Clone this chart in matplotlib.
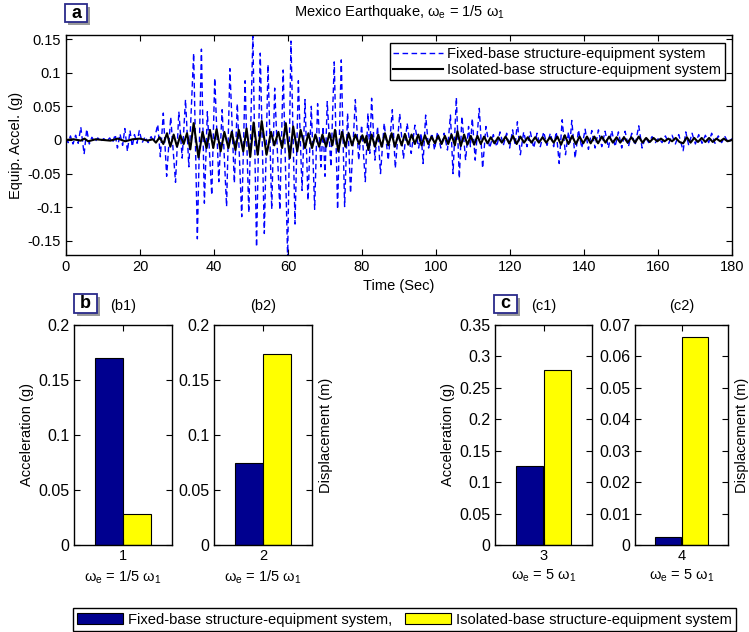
import matplotlib
matplotlib.use('Agg')
import matplotlib.pyplot as plt
from matplotlib.patches import Patch, Rectangle
from matplotlib.ticker import FuncFormatter

plt.rcParams['font.family'] = ['Liberation Sans', 'DejaVu Sans']
plt.rcParams['mathtext.fontset'] = 'custom'
plt.rcParams['mathtext.rm'] = 'Liberation Sans'
plt.rcParams['mathtext.it'] = 'Liberation Sans:italic'
plt.rcParams['axes.unicode_minus'] = False

# ---- data: time history extremes (time s, accel g) ----
fixed_peaks = [
    (0, 0.002), (0.6, -0.004), (1.2, 0.006), (1.9, -0.006), (2.6, 0.007), (3.3, -0.005),
    (4.0, 0.019), (4.9, -0.021), (5.6, 0.016), (6.3, -0.006), (7.0, 0.004), (7.8, -0.003),
    (8.6, 0.003), (9.4, -0.002), (10.2, 0.002), (11.0, -0.002), (11.8, 0.003), (12.6, -0.004),
    (13.3, 0.008), (13.9, -0.012), (14.6, 0.009), (15.3, -0.008), (15.9, 0.017), (16.6, -0.017),
    (17.3, 0.014), (17.9, -0.010), (18.5, 0.008), (19.2, -0.005), (19.8, 0.014), (20.6, -0.004),
    (21.4, 0.005), (22.2, -0.004), (23.0, 0.005), (23.7, -0.003),
    (24.8, 0.023), (25.5, -0.025), (26.3, 0.040), (27.2, -0.054), (28.3, 0.034), (29.6, -0.063),
    (30.5, 0.042), (31.4, -0.027), (32.3, 0.060), (33.2, -0.040),
    (34.5, 0.129), (35.5, -0.147), (36.6, 0.135), (37.4, -0.094), (38.2, 0.042), (39.4, -0.082),
    (40.2, 0.092), (41.3, -0.062), (42.2, 0.045), (43.4, -0.099), (44.3, 0.106), (45.5, -0.064),
    (46.3, 0.054), (47.5, -0.114), (48.4, 0.088), (49.4, -0.108), (50.5, 0.154), (51.5, -0.159),
    (52.5, 0.129), (53.6, -0.139), (54.6, 0.112), (55.6, -0.103), (56.4, 0.077), (57.8, -0.104),
    (58.7, 0.104), (59.9, -0.175), (60.8, 0.147), (61.9, -0.125), (62.8, 0.088), (63.8, -0.075),
    (64.6, 0.060), (65.4, -0.090), (66.3, 0.050), (67.2, -0.103), (68.0, 0.054), (68.9, -0.040),
    (69.5, 0.020), (70.0, -0.054), (70.6, 0.057), (71.6, -0.040), (72.5, 0.116), (73.4, -0.103),
    (74.4, 0.119), (75.3, -0.099), (76.1, 0.040), (76.9, -0.079), (78.2, 0.060), (79.1, -0.030),
    (79.9, 0.022), (80.9, -0.062), (81.6, 0.040), (82.1, -0.020), (82.6, 0.062), (83.5, -0.030),
    (84.2, 0.020), (85.0, -0.050), (86.0, 0.025), (87.1, -0.030), (88.2, 0.045), (89.0, -0.042),
    (90.2, 0.039), (91.2, -0.028), (92.2, 0.025), (93.3, -0.020), (94.3, 0.022), (95.3, -0.012),
    (96.0, 0.010), (96.5, -0.035), (97.2, 0.037), (98.0, -0.012), (98.9, 0.010), (99.6, -0.015),
    (100.4, 0.012), (101.3, -0.012), (102.2, 0.010), (103.1, -0.015), (103.9, 0.037), (104.6, -0.050),
    (105.5, 0.063), (106.3, -0.057), (107.0, 0.035), (108.0, -0.030), (108.8, 0.020), (109.3, -0.010),
    (109.8, 0.032), (110.6, -0.030), (111.7, 0.047), (112.6, -0.042), (113.5, 0.020), (114.5, -0.012),
    (115.5, 0.008), (116.4, -0.010), (117.3, 0.012), (118.2, -0.008), (119.1, 0.010), (119.9, -0.012),
    (120.7, 0.015), (121.4, -0.008), (122.0, 0.027), (122.8, -0.022), (123.7, 0.012), (124.6, -0.010),
    (125.5, 0.012), (126.4, -0.012), (127.3, 0.010), (128.2, -0.010), (129.1, 0.012), (130.0, -0.008),
    (130.9, 0.010), (131.8, -0.010), (132.5, 0.012), (133.3, -0.035), (134.1, 0.030), (135.0, -0.022),
    (135.8, 0.012), (136.2, -0.005), (136.7, 0.029), (137.6, -0.027), (138.5, 0.015), (139.4, -0.012),
    (140.3, 0.016), (141.2, -0.014), (142.1, 0.014), (143.0, -0.012), (143.9, 0.015), (144.8, -0.010),
    (145.7, 0.013), (146.6, -0.012), (147.5, 0.014), (148.4, -0.010), (149.3, 0.012), (150.2, -0.012),
    (151.1, 0.013), (152.0, -0.010), (152.9, 0.010), (153.8, -0.008), (154.8, 0.021), (155.7, -0.012),
    (156.6, 0.004), (157.5, -0.004), (158.4, 0.005), (159.3, -0.004), (160.2, 0.003), (161.1, -0.004),
    (162.0, 0.006), (162.9, -0.005), (163.8, 0.007), (164.7, -0.006), (165.6, 0.008), (166.8, -0.016),
    (167.5, 0.012), (168.3, -0.008), (169.2, 0.010), (170.1, -0.006), (171.0, 0.008), (171.9, -0.005),
    (172.8, 0.007), (173.7, -0.004), (174.5, 0.010), (175.4, -0.005), (176.3, 0.006), (177.2, -0.004),
    (178.1, 0.005), (179.0, -0.004), (180.0, 0.002),
]

isolated_peaks = [
    (0, 0.0), (2, 0.001), (4, -0.001), (5, 0.002), (6, -0.002), (8, 0.001), (12, -0.001),
    (14, 0.002), (16, -0.002), (18, 0.001), (20, 0.002), (22, -0.001), (23.5, 0.001),
    (24.3, -0.004), (25.3, 0.004), (26.3, -0.006), (27.3, 0.010), (28.2, -0.010), (29.1, 0.008),
    (30.0, -0.010), (30.9, 0.007), (31.8, -0.006), (32.7, 0.010), (33.6, -0.014), (34.5, 0.025),
    (35.8, -0.026), (36.9, 0.012), (38.0, -0.012), (38.9, 0.015), (39.8, -0.012), (40.7, 0.016),
    (41.8, -0.017), (42.8, 0.012), (43.9, -0.012), (44.8, 0.012), (45.8, -0.015), (46.7, 0.015),
    (47.9, -0.017), (48.8, 0.017), (49.8, -0.025), (50.7, 0.026), (51.8, -0.022), (52.9, 0.028),
    (54.2, -0.022), (55.4, 0.012), (56.3, -0.008), (57.4, 0.012), (58.4, -0.012), (59.4, 0.025),
    (60.5, -0.027), (61.4, 0.020), (62.5, -0.017), (63.4, 0.015), (64.6, -0.012), (65.5, 0.010),
    (66.5, -0.012), (67.4, 0.008), (68.4, -0.010), (69.3, 0.008), (70.3, -0.010), (71.2, 0.010),
    (72.0, -0.008), (72.7, 0.015), (73.6, -0.017), (74.6, 0.012), (75.5, -0.010), (76.4, 0.010),
    (77.3, -0.008), (78.2, 0.008), (79.2, -0.006), (80.1, 0.007), (80.8, -0.004), (81.2, 0.006),
    (81.7, -0.015), (82.6, 0.008), (83.5, -0.010), (84.4, 0.008), (85.3, -0.010), (86.2, 0.010),
    (87.1, -0.008), (88.0, 0.010), (88.9, -0.010), (89.8, 0.008), (90.7, -0.008), (91.6, 0.009),
    (92.5, -0.007), (93.4, 0.008), (94.3, -0.006), (95.2, 0.008), (96.1, -0.008), (97.0, 0.007),
    (97.9, -0.006), (98.8, 0.005), (99.7, -0.005), (100.6, 0.006), (101.5, -0.006), (102.4, 0.006),
    (103.3, -0.006), (104.2, 0.008), (105.1, -0.008), (105.8, 0.013), (106.7, -0.009), (107.6, 0.008),
    (108.5, -0.007), (109.4, 0.006), (110.3, -0.007), (111.2, 0.006), (112.1, -0.006), (113.0, 0.005),
    (113.9, -0.005), (114.8, 0.004), (115.8, -0.005), (116.8, 0.004), (117.8, -0.004), (118.8, 0.005),
    (119.8, -0.005), (120.8, 0.006), (121.8, -0.006), (122.8, 0.005), (123.8, -0.004), (124.8, 0.004),
    (125.8, -0.004), (126.8, 0.004), (127.8, -0.004), (128.8, 0.004), (129.8, -0.004), (130.8, 0.004),
    (131.8, -0.004), (132.8, 0.005), (133.8, -0.007), (134.8, 0.007), (135.8, -0.006), (136.8, 0.006),
    (137.8, -0.006), (138.8, 0.005), (139.8, -0.005), (140.8, 0.005), (141.8, -0.005), (142.8, 0.005),
    (143.8, -0.005), (144.8, 0.005), (145.8, -0.004), (146.8, 0.005), (147.8, -0.004), (148.8, 0.004),
    (149.8, -0.004), (150.8, 0.004), (151.8, -0.004), (152.8, 0.004), (153.8, -0.004), (154.8, 0.005),
    (155.8, -0.004), (156.8, 0.003), (157.8, -0.003), (158.8, 0.003), (159.8, -0.002), (160.8, 0.002),
    (161.8, -0.002), (162.8, 0.002), (163.8, -0.002), (164.8, 0.003), (165.8, -0.003), (166.8, -0.005),
    (167.8, 0.004), (168.8, -0.004), (169.8, 0.003), (170.8, -0.003), (171.8, 0.003), (172.8, -0.003),
    (173.8, 0.003), (174.8, -0.003), (175.8, 0.002), (176.8, -0.002), (177.8, 0.002), (178.8, -0.002),
    (180.0, 0.0),
]

fixed_t, fixed_a = zip(*fixed_peaks)
iso_t, iso_a = zip(*isolated_peaks)

# ---- data: peak response bars ----
bar_groups = [1, 2, 3, 4]
fixed_vals = [0.170, 0.0745, 0.1253, 0.0026]
isolated_vals = [0.028, 0.174, 0.279, 0.0661]
bar_ylims = [0.2, 0.2, 0.35, 0.07]
bar_ysteps = [0.05, 0.05, 0.05, 0.01]
bar_ylabels = ['Acceleration (g)', 'Displacement (m)', 'Acceleration (g)', 'Displacement (m)']
bar_titles = ['(b1)', '(b2)', '(c1)', '(c2)']
freq_labels = ['ω$_\\mathregular{e}$ = 1/5 ω$_\\mathregular{1}$', 'ω$_\\mathregular{e}$ = 1/5 ω$_\\mathregular{1}$',
               'ω$_\\mathregular{e}$ = 5 ω$_\\mathregular{1}$', 'ω$_\\mathregular{e}$ = 5 ω$_\\mathregular{1}$']

W, H = 749, 632
fig = plt.figure(figsize=(W / 100, H / 100), dpi=100)


def px_axes(l, t, r, b):
    return fig.add_axes([l / W, 1 - b / H, (r - l) / W, (b - t) / H])


def matlab_ticks(ax):
    ax.tick_params(direction='in', top=True, right=True, length=4, width=0.8, labelsize=10.5)
    ax.yaxis.set_major_formatter(FuncFormatter(lambda v, p: '%g' % round(v, 4)))
    for s in ax.spines.values():
        s.set_linewidth(1.0)


def panel_box(l, t, r, b, letter):
    # grey drop shadow, then the white framed box with a bold letter
    fig.patches.append(Rectangle((l / W + 3 / W, 1 - (b + 3) / H), (r - l) / W, (b - t) / H,
                                 transform=fig.transFigure, fc='#9a9a9a', ec='none', zorder=5))
    fig.patches.append(Rectangle((l / W, 1 - b / H), (r - l) / W, (b - t) / H,
                                 transform=fig.transFigure, fc='white', ec='#2a2a8a', lw=1.3, zorder=6))
    fig.text((l + r) / 2 / W, 1 - (t + b) / 2 / H, letter, ha='center', va='center',
             fontsize=13, fontweight='bold', zorder=7)


# ---- top: time history ----
ax = px_axes(66, 35, 732, 255)
ax.plot(fixed_t, fixed_a, '--', color='#0000ff', lw=1.0, dashes=(4, 2.5),
        label='Fixed-base structure-equipment system')
ax.plot(iso_t, iso_a, '-', color='black', lw=1.5, label='Isolated-base structure-equipment system')
ax.set_xlim(0, 180)
ax.set_ylim(-0.171, 0.156)
ax.set_xticks(range(0, 181, 20))
ax.set_yticks([-0.15, -0.1, -0.05, 0, 0.05, 0.1, 0.15])
matlab_ticks(ax)
ax.set_xlabel('Time (Sec)', fontsize=10.5, labelpad=4)
ax.set_ylabel('Equip. Accel. (g)', fontsize=10.5, labelpad=3)
ax.set_title('Mexico Earthquake, ω$_\\mathregular{e}$ = 1/5 ω$_\\mathregular{1}$', fontsize=10.5, pad=14)
leg = ax.legend(loc='upper right', bbox_to_anchor=(1 - 7 / 666, 1 - 8 / 220), borderaxespad=0,
                fontsize=10.5, handlelength=3.4, handletextpad=0.3, labelspacing=0.15,
                fancybox=False, edgecolor='black', framealpha=1, borderpad=0.25)
leg.get_frame().set_linewidth(1.0)
panel_box(65, 4, 87, 22, 'a')

# ---- bottom: bar panels ----
boxes = [(74, 325, 172, 545), (214, 325, 312, 545), (495, 325, 592, 545), (635, 325, 728, 545)]
bw = 0.288
for i, g in enumerate(bar_groups):
    b = px_axes(*boxes[i])
    b.bar(g - bw / 2, fixed_vals[i], bw, color='#00008f', edgecolor='black', lw=0.8)
    b.bar(g + bw / 2, isolated_vals[i], bw, color='#ffff00', edgecolor='black', lw=0.8)
    b.set_xlim(g - 0.5, g + 0.5)
    b.set_ylim(0, bar_ylims[i])
    n = int(round(bar_ylims[i] / bar_ysteps[i]))
    b.set_yticks([k * bar_ysteps[i] for k in range(n + 1)])
    b.set_xticks([g])
    b.set_xticklabels(['%d\n%s' % (g, freq_labels[i])], linespacing=1.4)
    matlab_ticks(b)
    b.tick_params(axis='x', pad=3, labelsize=10.5)
    b.tick_params(axis='y', labelsize=11.5)
    if i % 2 == 1:
        b.yaxis.set_label_position('right')
        b.set_ylabel(bar_ylabels[i], fontsize=10.5, labelpad=5)
    else:
        b.set_ylabel(bar_ylabels[i], fontsize=10.5, labelpad=3)
    b.set_title(bar_titles[i], fontsize=10.5, pad=11)

panel_box(74, 294, 97, 313, 'b')
panel_box(494, 295, 517, 313, 'c')

handles = [Patch(facecolor='#00008f', edgecolor='black', lw=0.8),
           Patch(facecolor='#ffff00', edgecolor='black', lw=0.8)]
fleg = fig.legend(handles, ['Fixed-base structure-equipment system,',
                            'Isolated-base structure-equipment system'],
                  ncol=2, loc='lower left', bbox_to_anchor=(72.5 / W, 1 - 631 / H),
                  fontsize=10.6, handlelength=3.1, handleheight=0.8, handletextpad=0.35,
                  columnspacing=0.9, fancybox=False, edgecolor='black', framealpha=1,
                  borderpad=0.3, borderaxespad=0)
fleg.get_frame().set_linewidth(1.0)

fig.savefig('out.png', dpi=100)
